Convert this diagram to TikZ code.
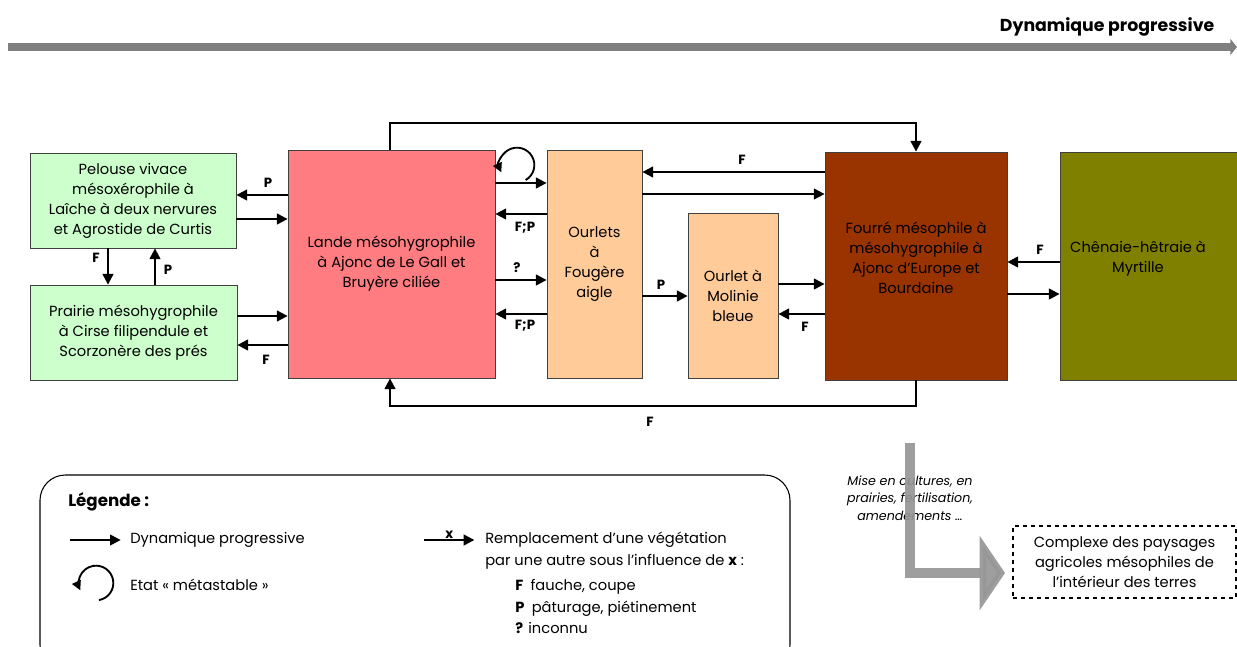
\documentclass[tikz,border=0pt]{standalone}
\usepackage{fontspec}
\setmainfont{Poppins}
\usepackage{xcolor}
\definecolor{vertPelouse}{RGB}{204,255,204}
\definecolor{roseLande}{RGB}{255,124,128}
\definecolor{orangeOurlet}{RGB}{255,204,153}
\definecolor{brunFourre}{RGB}{153,51,0}
\definecolor{oliveChenaie}{RGB}{128,128,0}
\definecolor{grisFleche}{RGB}{128,128,128}
\definecolor{grisAgri}{RGB}{150,150,150}
\usetikzlibrary{arrows.meta, positioning}

\begin{document}
\begin{tikzpicture}[x=0.75pt, y=-0.75pt,
  node distance=6pt and 8pt,
  box/.style={rectangle, draw=black!75, line width=0.6pt, align=center,
              font=\fontsize{11}{15}\selectfont, inner sep=2pt},
  arr/.style={-{Triangle[length=8pt,width=8pt]}, line width=1.6pt},
  boucle/.style={-{Triangle[length=7pt,width=7pt]}, line width=1.4pt},
  lab/.style={font=\fontsize{10}{12}\selectfont\bfseries, inner sep=1pt},
  leg/.style={font=\fontsize{11}{16.5}\selectfont, align=left, anchor=west, inner sep=0pt}
]
\useasboundingbox (0,0) rectangle (1237,646);

% Dynamique progressive
\coordinate (dynA) at (8,47);
\coordinate (dynB) at (1237,47);
\draw[grisFleche, line width=6pt, -{Triangle[length=5pt,width=12pt]}] (dynA) -- (dynB);
\node[font=\fontsize{13}{15}\selectfont\bfseries, anchor=east] (dyn) at (1219,27) {Dynamique progressive};

% Groupements
\node[box, fill=vertPelouse, minimum width=154.5pt, minimum height=71.25pt] (pel) at (133,200.5)
  {Pelouse vivace\\ mésoxérophile à\\ Laîche à deux nervures\\ et Agrostide de Curtis};
\node[box, fill=vertPelouse, minimum width=155.25pt, minimum height=71.25pt] (pra) at (133.5,332.5)
  {Prairie mésohygrophile\\ à Cirse filipendule et\\ Scorzonère des prés};
\node[box, fill=roseLande, minimum width=155.25pt, minimum height=171pt] (lande) at (391.5,264)
  {Lande mésohygrophile\\ à Ajonc de Le Gall et\\ Bruyère ciliée};
\node[box, fill=orangeOurlet, minimum width=71.25pt, minimum height=171pt] (fougere) at (594.5,264)
  {Ourlets\\ à\\ Fougère\\ aigle};
\node[box, fill=orangeOurlet, minimum width=67.5pt, minimum height=123.75pt] (molinie) at (733,295.5)
  {Ourlet à\\ Molinie\\ bleue};
\node[box, fill=brunFourre, minimum width=136.5pt, minimum height=171pt] (fourre) at (916,266)
  {Fourré mésophile à\\ mésohygrophile à\\ Ajonc d’Europe et\\ Bourdaine\\[-3pt]};
\node[box, fill=oliveChenaie, minimum width=135pt, minimum height=171pt] (chenaie) at (1150,266) {};
\node[box, draw=none] (chenaieT) at (1138,259) {Chênaie-hêtraie à\\ Myrtille};

% Pelouse / Prairie / Lande
\draw[arr] (lande.west |- 0,195) -- (pel.east |- 0,195);
\node[lab] at (268,183) {P};
\draw[arr] (pel.east |- 0,219) -- (lande.west |- 0,219);
\draw[arr] (pel.south -| 108,0) -- (pra.north -| 108,0);
\node[lab] at (96,258) {F};
\draw[arr] (pra.north -| 155,0) -- (pel.south -| 155,0);
\node[lab] at (168,270) {P};
\draw[arr] (pra.east |- 0,316) -- (lande.west |- 0,316);
\draw[arr] (lande.west |- 0,345) -- (pra.east |- 0,345);
\node[lab] at (266,360) {F};

% Lande / Ourlets
\coordinate (boucleL) at (517,165);
\draw[boucle] (boucleL) ++(-60:13pt) arc[start angle=-60, end angle=205, radius=13pt];
\draw[arr] (lande.east |- 0,183) -- (fougere.west |- 0,183);
\draw[arr] (fougere.west |- 0,214) -- (lande.east |- 0,214);
\node[lab] at (525,228) {F;P};
\draw[arr] (lande.east |- 0,280) -- (fougere.west |- 0,280);
\node[lab] at (517,268) {?};
\draw[arr] (fougere.west |- 0,314) -- (lande.east |- 0,314);
\node[lab] at (525,326) {F;P};

% Ourlets / Fourré
\draw[arr] (fourre.west |- 0,172) -- (fougere.east |- 0,172);
\node[lab] at (742,160) {F};
\draw[arr] (fougere.east |- 0,194) -- (fourre.west |- 0,194);
\draw[arr] (fougere.east |- 0,296) -- (molinie.west |- 0,296);
\node[lab] at (661,285) {P};
\draw[arr] (molinie.east |- 0,284) -- (fourre.west |- 0,284);
\draw[arr] (fourre.west |- 0,314) -- (molinie.east |- 0,314);
\node[lab] at (805,327) {F};

% Fourré / Chênaie
\draw[arr] (chenaie.west |- 0,262) -- (fourre.east |- 0,262);
\node[lab] at (1040,250) {F};
\draw[arr] (fourre.east |- 0,294) -- (chenaie.west |- 0,294);

% Lande <-> Fourré
\draw[arr] (lande.north -| 390,0) -- ++(0,-27) -| (fourre.north);
\draw[arr] (fourre.south) -- ++(0,26) -| (lande.south -| 390,0);
\node[lab] at (650,422) {F};

% Paysages agricoles
\node[box, dashed, line width=1.3pt, draw=black, minimum width=167.25pt, minimum height=54pt] (agri) at (1124.5,562)
  {Complexe des paysages\\ agricoles mésophiles de\\ l'intérieur des terres};
\node[font=\fontsize{9.5}{13}\selectfont\itshape, align=center] (agriT) at (910,498)
  {Mise en cultures, en\\ prairies, fertilisation,\\ amendements \dots};
\coordinate (agriA) at (910,443);
\coordinate (agriB) at (1005,573);
\draw[grisAgri, opacity=0.92, line width=7.5pt, miter limit=10,
      -{Triangle[length=19pt,width=55pt]}] (agriA) |- (agriB);

% Légende
\draw[line width=0.8pt, rounded corners=19pt] (40,475) rectangle (790,670);
\node[leg, font=\fontsize{12.5}{14}\selectfont\bfseries] (legende) at (68,502) {Légende :};
\node[leg] (legDyn) at (130,540) {Dynamique progressive};
\coordinate (legDynA) at (70,540);
\draw[arr] (legDynA) -- ([xshift=-7pt]legDyn.west);
\node[leg] (legMeta) at (130,585) {Etat « métastable »};
\coordinate (boucleM) at (96,583);
\draw[boucle] (boucleM) ++(-80:13pt) arc[start angle=-80, end angle=205, radius=13pt];
\node[leg] (legRemp) at (485,551) {Remplacement d'une végétation\\ par une autre sous l'influence de \textbf{x} :};
\coordinate (legRempA) at (424,540);
\draw[arr] (legRempA) -- ([xshift=-8pt]legRemp.west |- 0,540) node[midway, above=-1pt, lab] {x};
\node[leg, font=\fontsize{11}{16}\selectfont] (legCles) at (515,606.5)
  {\textbf{F}\enspace fauche, coupe\\ \textbf{P}\enspace pâturage, piétinement\\ \textbf{?} inconnu};

\end{tikzpicture}
\end{document}
